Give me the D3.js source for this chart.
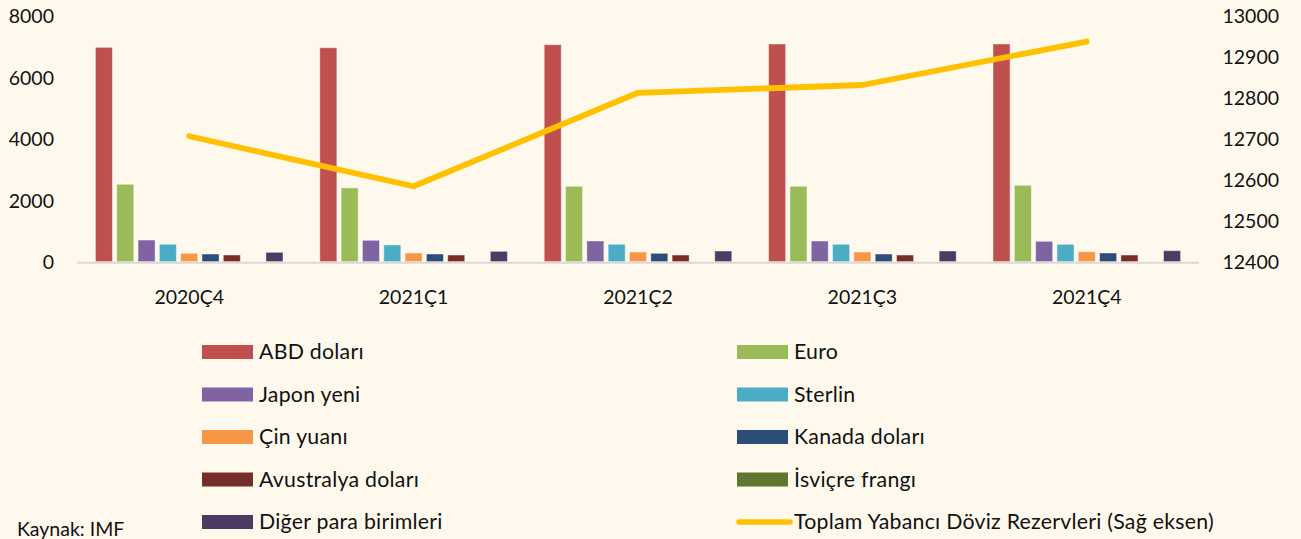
<!DOCTYPE html>
<html>
<head>
<meta charset="utf-8">
<script src="https://cdn.jsdelivr.net/npm/d3@7"></script>
<style>
  html, body { margin: 0; padding: 0; background: #FEF9EC; }
  svg { display: block; }
  text { font-family: Lato, "Open Sans", sans-serif; fill: #111; }
</style>
</head>
<body>
<svg id="chart" width="1301" height="539"></svg>
<script>
// ---- data ----
const categories = ["2020Ç4", "2021Ç1", "2021Ç2", "2021Ç3", "2021Ç4"];
const seriesNames = ["ABD doları", "Euro", "Japon yeni", "Sterlin", "Çin yuanı",
  "Kanada doları", "Avustralya doları", "İsviçre frangı", "Diğer para birimleri"];
const usd   = [6970, 6960, 7057, 7080, 7080];
const eur   = [2517, 2400, 2452, 2452, 2485];
const jpy   = [705, 696, 673, 673, 663];
const gbp   = [566, 545, 566, 566, 566];
const cny   = [273, 283, 315, 315, 325];
const cad   = [250, 250, 273, 250, 283];
const aud   = [218, 217, 217, 217, 217];
const chf   = [0, 0, 0, 0, 0];
const other = [305, 338, 348, 348, 358];
const totalReserves = [12706, 12584, 12812, 12831, 12937];
const leftTicks = [0, 2000, 4000, 6000, 8000];
const rightTicks = [12400, 12500, 12600, 12700, 12800, 12900, 13000];
const lineName = "Toplam Yabancı Döviz Rezervleri (Sağ eksen)";
const sourceText = "Kaynak: IMF";

const seriesValues = [usd, eur, jpy, gbp, cny, cad, aud, chf, other];
const colors = ["#C0504D", "#9BBB59", "#8064A2", "#4BACC6", "#F79646",
  "#2C4D75", "#772C2A", "#5F7530", "#4D3B62"];
const lineColor = "#FFC000";

// ---- layout ----
const svg = d3.select("#chart");
const plotL = 77, plotR = 1199, yBase = 261.7, yTop = 15.7;

const x0 = d3.scaleBand().domain(categories).range([plotL, plotR])
  .paddingInner(0.164).paddingOuter(0.082);
const x1 = d3.scaleBand().domain(seriesNames).range([0, x0.bandwidth()])
  .paddingInner(0.2).paddingOuter(0);
const yL = d3.scaleLinear().domain([0, 8000]).range([yBase, yTop]);
const yR = d3.scaleLinear().domain([12400, 13000]).range([yBase, yTop]);

const fs = 19.5;
const legendFs = 21.3;

// left axis
const axL = svg.append("g").attr("transform", `translate(${plotL - 23},0)`)
  .call(d3.axisLeft(yL).tickValues(leftTicks).tickSize(0).tickPadding(0).tickFormat(d3.format("d")));
axL.select(".domain").remove();
axL.selectAll("text").attr("font-size", fs).attr("font-family", "Lato").attr("fill", "#111").attr("dy", "0.35em");

// right axis
const axR = svg.append("g").attr("transform", `translate(${plotR + 23.5},0)`)
  .call(d3.axisRight(yR).tickValues(rightTicks).tickSize(0).tickPadding(0).tickFormat(d3.format("d")));
axR.select(".domain").remove();
axR.selectAll("text").attr("font-size", fs).attr("font-family", "Lato").attr("fill", "#111").attr("dy", "0.35em");

// bars
const groups = svg.append("g").selectAll("g").data(categories).join("g")
  .attr("transform", d => `translate(${x0(d)},0)`);
groups.selectAll("rect")
  .data((c, ci) => seriesNames.map((s, si) => ({ s, si, v: seriesValues[si][ci] })).filter(d => d.v > 0))
  .join("rect")
  .attr("x", d => x1(d.s))
  .attr("width", x1.bandwidth())
  .attr("y", d => yL(d.v))
  .attr("height", d => yBase - yL(d.v))
  .attr("fill", d => colors[d.si])
  .attr("stroke", "rgba(255,255,255,0.45)")
  .attr("stroke-width", 1);

// baseline
svg.append("line").attr("x1", plotL).attr("x2", plotR).attr("y1", yBase + 1).attr("y2", yBase + 1)
  .attr("stroke", "#D9D9D9").attr("stroke-width", 2);

// category labels
svg.append("g").selectAll("text").data(categories).join("text")
  .attr("x", d => x0(d) + x0.bandwidth() / 2)
  .attr("y", 304)
  .attr("text-anchor", "middle")
  .attr("font-size", fs)
  .text(d => d);

// line
const line = d3.line()
  .x((d, i) => x0(categories[i]) + x0.bandwidth() / 2)
  .y(d => yR(d));
svg.append("path").datum(totalReserves)
  .attr("d", line)
  .attr("fill", "none")
  .attr("stroke", lineColor)
  .attr("stroke-width", 5.8)
  .attr("stroke-linecap", "round")
  .attr("stroke-linejoin", "round");

// legend
const rowY = [352, 394.5, 437, 479.5, 522];
const colX = [202, 737];
const legendItems = seriesNames.map((s, i) => ({ name: s, color: colors[i], type: "rect" }));
legendItems.push({ name: lineName, color: lineColor, type: "line" });
const lg = svg.append("g");
legendItems.forEach((it, i) => {
  const col = i % 2, row = Math.floor(i / 2);
  const x = colX[col], y = rowY[row];
  if (it.type === "rect") {
    lg.append("rect").attr("x", x).attr("y", y - 7).attr("width", 51).attr("height", 14).attr("fill", it.color);
  } else {
    lg.append("line").attr("x1", x + 2).attr("x2", x + 53).attr("y1", y).attr("y2", y)
      .attr("stroke", it.color).attr("stroke-width", 5.5).attr("stroke-linecap", "round");
  }
  lg.append("text").attr("x", x + 57).attr("y", y).attr("dy", "0.35em")
    .attr("font-size", legendFs).attr("letter-spacing", "0.25px").text(it.name);
});

// source
svg.append("text").attr("x", 17).attr("y", 529).attr("dy", "0.35em")
  .attr("font-size", fs).text(sourceText);
</script>
</body>
</html>
